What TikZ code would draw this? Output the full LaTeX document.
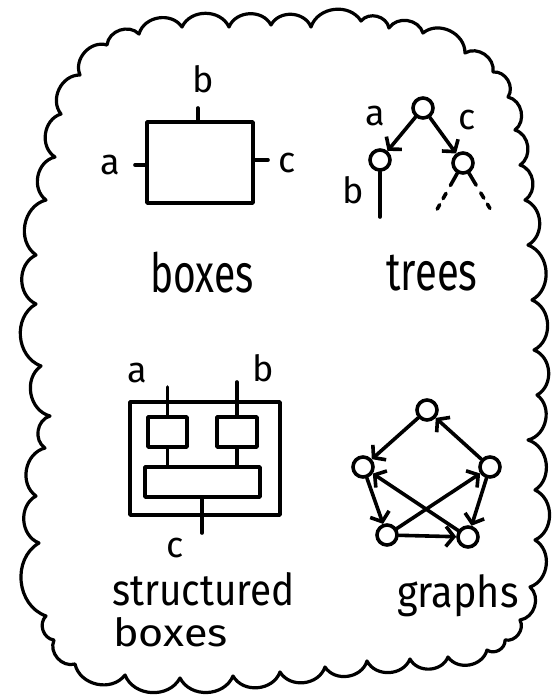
\documentclass[tikz,border=0pt]{standalone}
\usepackage{fontspec}
\setmainfont{Fira Sans}
\usetikzlibrary{arrows.meta}
\begin{document}
\begin{tikzpicture}[x=1pt,y=-1pt, line cap=round, line join=round,
  ink/.style={line width=3.6pt},
  cloudline/.style={line width=3.2pt},
  vtx/.style={circle, draw, line width=3.6pt, minimum size=20pt, inner sep=0pt},
  frame/.style={draw, line width=3.6pt, inner sep=0pt, outer sep=0pt},
  lbl/.style={font=\fontsize{36}{36}\selectfont, inner sep=0pt},
  title/.style={font=\fontsize{50}{50}\selectfont, inner sep=0pt},
  subtitle/.style={font=\fontsize{44}{44}\selectfont, inner sep=0pt},
  arr/.style={ink, -{Straight Barb[length=8pt,width=20pt]}},
  puff/.style={bend left=65, looseness=1.1},
]
\useasboundingbox (0,0) rectangle (556,697);

% cloud outline
\draw[cloudline] (107,45)
  to[puff] (139,34) to[puff] (182,27) to[puff] (229,27) to[puff] (271,25)
  to[puff] (311,27) to[puff] (361,21) to[puff] (389,28) to[puff] (423,33)
  to[puff] (465,53) to[puff] (493,72) to[puff] (508,97) to[puff] (515,130)
  to[puff] (520,165) to[puff] (525,200) to[puff] (528,245) to[puff] (532,300)
  to[puff] (534,350) to[puff] (537,395) to[puff] (528,440) to[puff] (535,490)
  to[puff] (535,540) to[puff] (530,587) to[puff] (520,620) to[puff] (505,640)
  to[puff] (487,650) to[puff] (448,657) to[puff] (410,659) to[puff] (367,661)
  to[puff] (325,667) to[puff] (280,672) to[puff] (233,676) to[puff] (180,678)
  to[puff] (125,675) to[puff] (75,664) to[puff] (54,640) to[puff] (46,616) to[puff] (39,543)
  to[puff] (36,496) to[puff] (45,448) to[puff] (50,416) to[puff] (41,366)
  to[puff] (36,304) to[puff] (36,255) to[puff] (46,200) to[puff] (55,157)
  to[puff] (61,114) to[puff] (80,75) to[puff] (107,45);

% ---- boxes ----
\node[frame, minimum width=106pt, minimum height=81pt] (bx) at (200,162.5) {};
\coordinate (bxb) at (198,108);
\coordinate (bxa) at (135,165);
\coordinate (bxc) at (268,160);
\draw[ink] (bxb) -- (bxb |- bx.north);
\draw[ink] (bxa) -- (bxa -| bx.west);
\draw[ink] (bxc) -- (bxc -| bx.east);
\node[lbl] (la) at (110,165) {a};
\node[lbl] (lb) at (203,79) {b};
\node[lbl] (lc) at (287,163) {c};
\node[title, anchor=base] (tboxes) at (202,292) {\scalebox{0.78}[1.08]{boxes}};

% ---- trees ----
\node[vtx] (tr) at (423,108) {};
\node[vtx] (tl) at (380,160) {};
\node[vtx] (tc) at (463,163) {};
\draw[arr] (tr) -- (tl);
\draw[arr] (tr) -- (tc);
\node[lbl] (ta) at (375,116) {a};
\node[lbl] (tcl) at (467,120) {c};
\node[lbl] (tb) at (353,190) {b};
\coordinate (tlend) at (380,217);
\coordinate (tcl1) at (430,222);
\coordinate (tcr1) at (498,222);
\draw[ink] (tl) -- (tlend);
\draw[ink, dash pattern=on 14pt off 9pt on 6pt off 7pt on 5pt off 20pt] (tc) -- (tcl1);
\draw[ink, dash pattern=on 14pt off 9pt on 6pt off 7pt on 5pt off 20pt] (tc) -- (tcr1);
\node[title, anchor=base] (ttrees) at (432,290) {\scalebox{0.8}[1.08]{trees}};

% ---- structured boxes ----
\node[frame, minimum width=150pt, minimum height=113pt] (sout) at (205,458.5) {};
\node[frame, minimum width=39pt, minimum height=30pt] (sl) at (167.5,432) {};
\node[frame, minimum width=40pt, minimum height=30pt] (sr) at (237,432) {};
\node[frame, minimum width=115pt, minimum height=30pt] (sw) at (202.5,482) {};
\coordinate (sa) at (167.5,387);
\coordinate (sb) at (237,382);
\coordinate (sc) at (202,533);
\draw[ink] (sa) -- (sl.north);
\draw[ink] (sb) -- (sr.north);
\draw[ink] (sl.south) -- (sl.south |- sw.north);
\draw[ink] (sr.south) -- (sr.south |- sw.north);
\draw[ink] (sw.south -| sc) -- (sc);
\node[lbl] (sla) at (137,373) {a};
\node[lbl] (slb) at (263,368) {b};
\node[lbl] (slc) at (175,548) {c};
\node[subtitle, anchor=base west] (tstruct) at (112,605) {\scalebox{0.88}[1]{structured}};
\node[subtitle, anchor=base west] (tsboxes) at (113,646) {\scalebox{0.98}[0.88]{boxes}};

% ---- graphs ----
\node[vtx] (g1) at (427,410) {};
\node[vtx] (g2) at (363,467) {};
\node[vtx] (g3) at (490,467) {};
\node[vtx] (g4) at (387,535) {};
\node[vtx] (g5) at (468,537) {};
\draw[arr] (g1) -- (g2);
\draw[arr] (g3) -- (g1);
\draw[arr] (g2) -- (g4);
\draw[arr] (g3) -- (g5);
\draw[arr] (g4) -- (g5);
\draw[arr] (g5) -- (g2);
\draw[arr] (g4) -- (g3);
\node[subtitle, anchor=base] (tgraphs) at (458,607) {\scalebox{0.9}[1]{graphs}};
\end{tikzpicture}
\end{document}
